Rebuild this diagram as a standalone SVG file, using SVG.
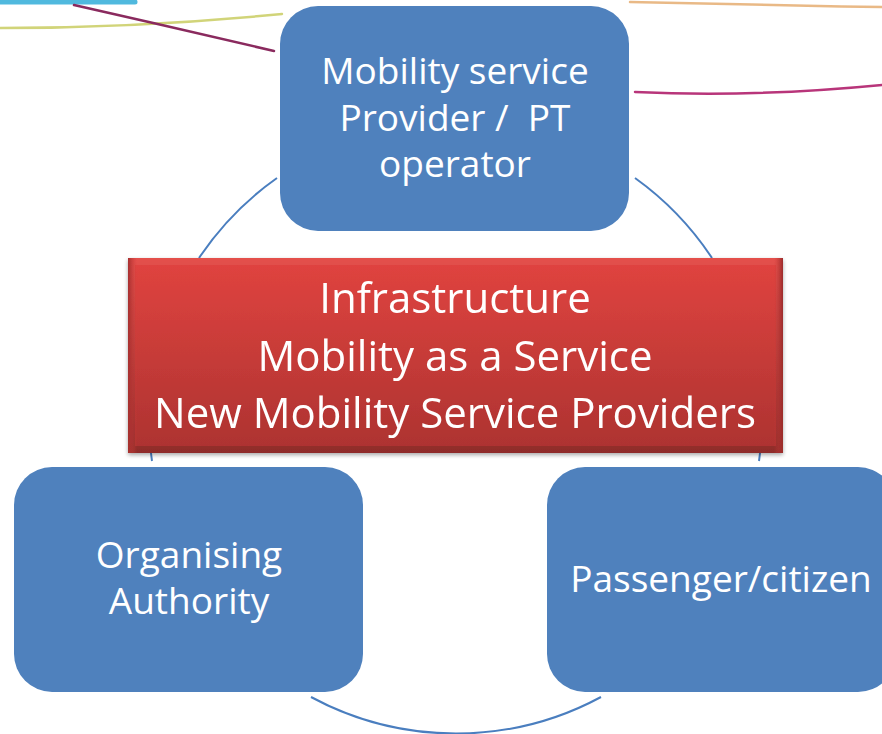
<svg xmlns="http://www.w3.org/2000/svg" width="882" height="734" viewBox="0 0 882 734">
<style>
.node{fill:#4F81BD;}
.lbl{font-family:"Open Sans","Liberation Sans",sans-serif;fill:#FFFFFF;text-anchor:middle;}
.blue{font-size:37px;}
.red{font-size:42px;}
.conn{fill:none;stroke:#4A7EBF;stroke-width:2;}
.deco{fill:none;stroke-linecap:round;}
</style>
<defs>
<linearGradient id="redOuter" x1="0" y1="0" x2="0" y2="1">
<stop offset="0" stop-color="#E4504C"/>
<stop offset="1" stop-color="#8F2C2A"/>
</linearGradient>
<linearGradient id="redInner" x1="0" y1="0" x2="0" y2="1">
<stop offset="0" stop-color="#DF433F"/>
<stop offset="1" stop-color="#AE3331"/>
</linearGradient>
<linearGradient id="sideL" x1="0" y1="0" x2="1" y2="0">
<stop offset="0" stop-color="#A52F2E"/>
<stop offset="1" stop-color="#D13C3A" stop-opacity="0"/>
</linearGradient>
<linearGradient id="sideR" x1="1" y1="0" x2="0" y2="0">
<stop offset="0" stop-color="#9A2C2B"/>
<stop offset="1" stop-color="#C93937" stop-opacity="0"/>
</linearGradient>
<filter id="shadow" x="-5%" y="-5%" width="110%" height="115%">
<feGaussianBlur in="SourceAlpha" stdDeviation="2"/>
<feOffset dy="2"/>
<feComponentTransfer><feFuncA type="linear" slope="0.35"/></feComponentTransfer>
<feMerge><feMergeNode/><feMergeNode in="SourceGraphic"/></feMerge>
</filter>
</defs>
<rect x="0" y="0" width="882" height="734" fill="#FFFFFF"/>
<g id="decoration">
<path class="deco" d="M0,2 L135,2" stroke="#3DB1DA" stroke-width="5" opacity="0.9"/>
<path class="deco" d="M0,28 C90,28 180,24 282,14" stroke="#C9CC62" stroke-width="2.5" opacity="0.85"/>
<path class="deco" d="M74,5 C140,20 210,36 274,51" stroke="#8A2A5E" stroke-width="2.5"/>
<path class="deco" d="M630,2 C720,4 800,6 882,7" stroke="#E3A868" stroke-width="2.5" opacity="0.8"/>
<path class="deco" d="M635,92 C720,96 800,93 882,85" stroke="#B8357A" stroke-width="2.5"/>
</g>
<g id="connectors">
<path class="conn" d="M199,258 A306,306 0 0 1 277,178"/>
<path class="conn" d="M635,178 A306,306 0 0 1 712,258"/>
<path class="conn" d="M151,453 A306,306 0 0 0 152,461"/>
<path class="conn" d="M760,453 A306,306 0 0 1 759,461"/>
<path class="conn" d="M311,697 A306,306 0 0 0 601,697"/>
</g>
<g id="node-provider">
<rect class="node" x="280" y="6" width="349" height="225" rx="38" ry="38"/>
<text class="lbl blue" x="455" y="84">Mobility service</text>
<text class="lbl blue" x="455" y="131" xml:space="preserve">Provider /  PT</text>
<text class="lbl blue" x="455" y="177">operator</text>
</g>
<g id="node-center" filter="url(#shadow)">
<rect x="128" y="258" width="655" height="195" fill="url(#redOuter)"/>
<rect x="135" y="265" width="641" height="181" fill="url(#redInner)"/>
<rect x="128" y="258" width="9" height="195" fill="url(#sideL)"/>
<rect x="774" y="258" width="9" height="195" fill="url(#sideR)"/>
<text class="lbl red" x="455" y="313">Infrastructure</text>
<text class="lbl red" x="455" y="371">Mobility as a Service</text>
<text class="lbl red" x="455" y="428">New Mobility Service Providers</text>
</g>
<g id="node-authority">
<rect class="node" x="14" y="467" width="349" height="225" rx="38" ry="38"/>
<text class="lbl blue" x="189" y="568">Organising</text>
<text class="lbl blue" x="189" y="614">Authority</text>
</g>
<g id="node-passenger">
<rect class="node" x="547" y="467" width="349" height="225" rx="38" ry="38"/>
<text class="lbl blue" x="721" y="592">Passenger/citizen</text>
</g>
</svg>
